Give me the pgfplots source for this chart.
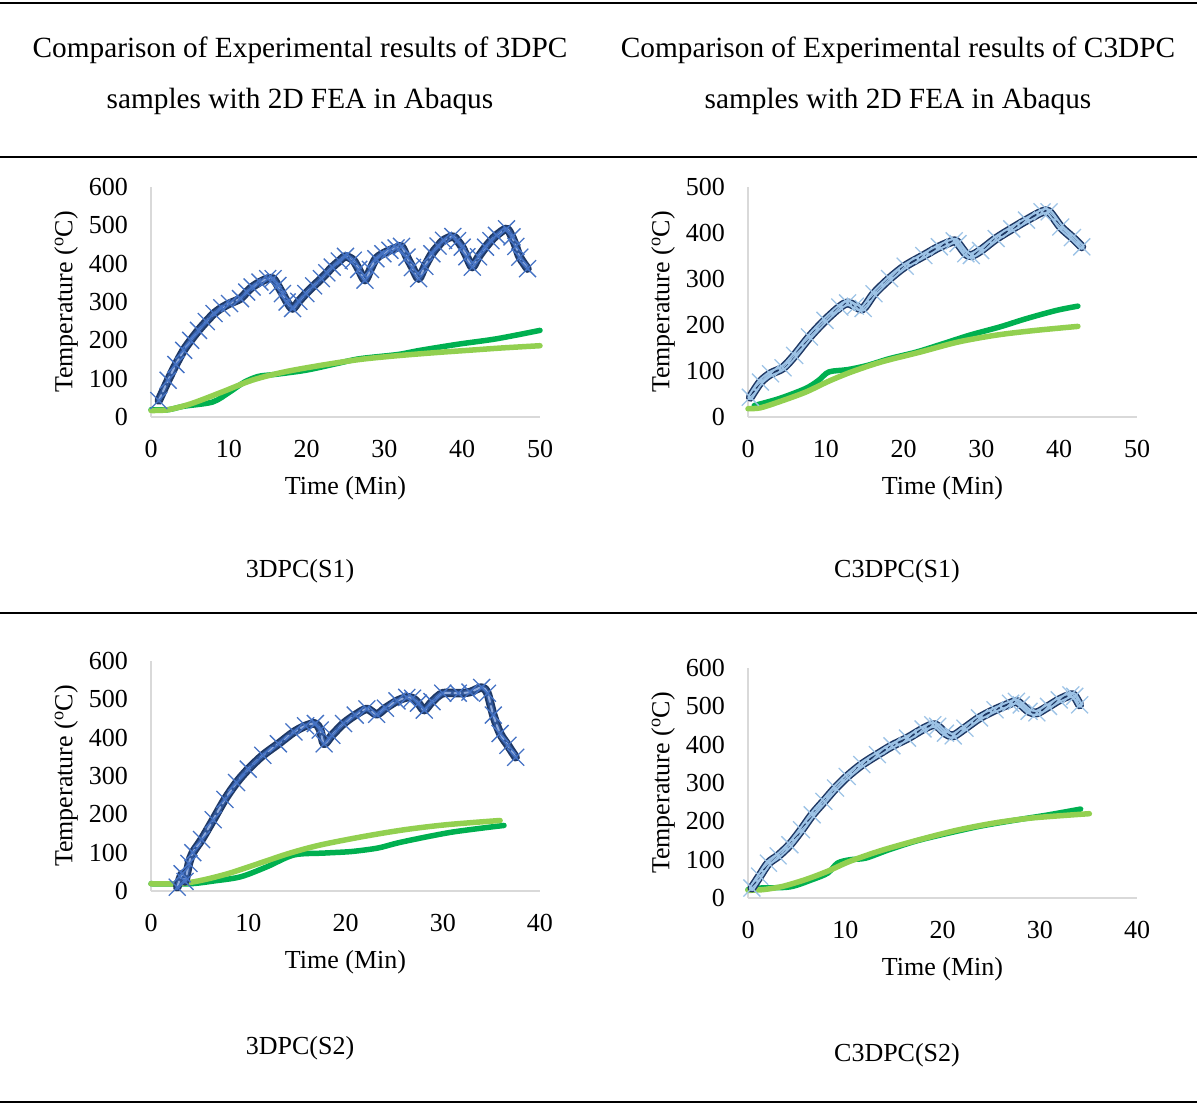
\documentclass[border=0pt]{standalone}
\usepackage{pgfplots}
\usepackage{pgfplotstable}
\pgfplotsset{compat=1.18}
\usepackage{fontspec}
\setmainfont{Liberation Serif}
\newcommand\fs{\fontsize{26}{31}\selectfont}
\newcommand\ft{\fontsize{29.3}{35}\selectfont}
\definecolor{dgreen}{HTML}{00B050}
\definecolor{lgreen}{HTML}{92D050}
\definecolor{aEdge}{HTML}{1F3864}
\definecolor{aOuter}{HTML}{2F5597}
\definecolor{aInner}{HTML}{8FAADC}
\definecolor{aMark}{HTML}{4472C4}
\definecolor{bEdge}{HTML}{1F3864}
\definecolor{bOuter}{HTML}{9DC3E6}
\definecolor{bInner}{HTML}{1F3864}
\definecolor{bMark}{HTML}{9DC3E6}

\pgfplotstableread{
x y
1.0 43
2.2 96
3.2 137
4.2 174
5.1 200
6.1 226
7.1 249
8.1 270
9.1 285
10.1 296
11.5 309
12.3 326
13.0 339
14.0 352
15.0 361
15.7 361
16.3 343
16.9 322
17.5 300
18.2 283
19.0 302
19.9 322
20.9 342
21.9 361
22.6 376
23.3 391
24.2 407
25.0 419
26.0 409
26.7 385
27.5 357
28.2 385
28.9 413
29.8 426
30.7 435
31.5 441
32.2 445
32.9 417
33.6 390
34.4 361
35.2 393
36.1 426
36.9 446
37.6 461
38.8 471
39.4 460
40.0 443
40.6 418
41.3 391
42.1 418
43.0 443
43.7 460
44.4 474
45.7 491
46.4 470
46.9 445
47.4 417
48.4 387
}\tAb
\pgfplotstableread{
x y
0 19
2.2 19
4.2 28
7.9 39
10.1 65
12 91
13.8 106
15.9 111
19.9 122
23.8 139
26.8 152
31.7 163
34.6 174
39.5 190
44.4 204
50 226
}\tAd
\pgfplotstableread{
x y
0 17
2.2 19
5.2 35
9.1 65
13 96
17 117
21.9 135
26.8 150
31.7 160
36.6 168
41.5 175
45 180
50 186
}\tAl

\pgfplotstableread{
x y
0.3 43
1.6 76
2.9 94
4.5 107
6.0 134
7.9 174
9.9 210
11.8 239
12.8 248
13.8 241
14.8 236
16.2 268
18.2 301
20.2 328
22.6 351
24.6 370
26.5 383
27.0 377
28.0 355
28.7 351
29.9 362
31.9 388
33.9 409
35.8 428
37.8 446
38.7 446
40.2 413
41.7 390
42.9 370
}\tBb
\pgfplotstableread{
x y
0.8 25
4 40
7.4 62
9.1 80
10.4 98
12.8 103
15.3 112
18.2 127
21.6 141
25 159
28.5 178
32.4 196
35.8 214
39.7 232
42.4 241
}\tBd
\pgfplotstableread{
x y
0 18
1.6 20
4 33
7.4 54
10.4 78
13.3 98
17.2 120
22.1 141
27 163
31.9 178
36.8 188
42.4 197
}\tBl

\pgfplotstableread{
x y
2.7 10
3.2 45
3.5 25
3.9 72
4.3 100
5.2 134
6.4 186
7.6 239
8.8 283
10 318
11.5 354
13.1 384
14.7 415
15.9 431
16.9 437
17.4 420
17.8 384
18.6 406
19.8 437
21 459
22.2 475
23.2 461
24.1 477
25.3 496
26.3 505
26.9 503
27.5 490
28.1 472
28.9 494
30 516
31.6 516
32.8 519
34 531
34.6 516
35.2 459
35.9 411
36.7 380
37.5 349
}\tCb
\pgfplotstableread{
x y
0 19
4 19
6.4 26
9.2 37
11.9 63
14.7 94
17.8 99
20.6 103
23.3 112
25.3 125
27.7 138
30.8 153
34 164
36.3 171
}\tCd
\pgfplotstableread{
x y
0 19
2.9 19
5.2 28
8 46
11.1 72
14.3 99
17.4 120
21.8 142
26.1 160
30.4 173
35.9 184
}\tCl

\pgfplotstableread{
x y
0.4 26
1.2 57
2.1 91
3.1 110
4.3 139
5.5 178
6.6 217
7.8 252
9 287
10.2 317
11.7 348
13.3 374
14.8 397
16.4 417
18 441
19 452
19.5 448
20.3 430
21.1 423
22.3 443
23.8 470
25.4 491
27 508
27.6 513
28.1 504
28.9 487
29.7 483
30.9 500
32 517
33.2 530
33.6 526
34.1 504
}\tDb
\pgfplotstableread{
x y
0 22
1.2 26
4.3 29
6.6 48
8.2 65
9.2 91
10.5 100
12.1 104
14.5 126
17.2 148
19.9 165
23.8 187
27.7 204
30.9 217
34.2 232
}\tDd
\pgfplotstableread{
x y
0 20
1.6 22
3.5 30
5.9 48
8.2 70
10.5 96
13.7 124
17.6 152
21.5 177
25.4 196
29.3 209
35.1 220
}\tDl

\pgfplotsset{
  panel/.style={
    scale only axis, width=389pt, height=230pt, anchor=south west,
    axis x line*=bottom, axis y line*=left,
    axis line style={draw=black!15, line width=1.5pt},
    major tick length=0pt,
    tick label style={font=\fs},
    label style={font=\fs},
    /pgf/number format/assume math mode=true,
    xticklabel style={inner sep=0pt, anchor=north, yshift=-23pt},
    yticklabel style={inner sep=0pt, anchor=east, xshift=-23pt},
    xlabel={Time (Min)}, ylabel={Temperature (\textsuperscript{o}C)},
    xlabel style={at={(axis description cs:0.5,-0.309)}, anchor=center, inner sep=0pt},
    ylabel style={at={(axis description cs:-0.218,0.5)}, anchor=center, inner sep=0pt},
    xmin=0, ymin=0, clip=false,
  },
  gline/.style={smooth, line width=5.5pt, line cap=round, line join=round},
  bl/.style={smooth, tension=0.5, line join=round, line cap=round},
}

\begin{document}
\begin{tikzpicture}
\path[use as bounding box] (0pt,0pt) rectangle (1197pt,-1104pt);
% rules
\draw[line width=1.5pt] (0pt,-3pt) -- (1197pt,-3pt);
\draw[line width=1.5pt] (0pt,-157pt) -- (1197pt,-157pt);
\draw[line width=1.5pt] (0pt,-613pt) -- (1197pt,-613pt);
\draw[line width=1.5pt] (0pt,-1102pt) -- (1197pt,-1102pt);
% titles
\node[font=\ft, inner sep=0pt, anchor=base] at (300pt,-57pt) {Comparison of Experimental results of 3DPC};
\node[font=\ft, inner sep=0pt, anchor=base] at (300pt,-108pt) {samples with 2D FEA in Abaqus};
\node[font=\ft, inner sep=0pt, anchor=base] at (898pt,-57pt) {Comparison of Experimental results of C3DPC};
\node[font=\ft, inner sep=0pt, anchor=base] at (898pt,-108pt) {samples with 2D FEA in Abaqus};
\node[font=\fs, inner sep=0pt, anchor=base] at (300pt,-577pt) {3DPC(S1)};
\node[font=\fs, inner sep=0pt, anchor=base] at (897pt,-577pt) {C3DPC(S1)};
\node[font=\fs, inner sep=0pt, anchor=base] at (300pt,-1054pt) {3DPC(S2)};
\node[font=\fs, inner sep=0pt, anchor=base] at (897pt,-1061pt) {C3DPC(S2)};

% Chart 1
\begin{axis}[panel, at={(151pt,-417pt)}, xmax=50, ymax=600,
  xtick={0,10,...,50}, ytick={0,100,...,600}]
\addplot[gline, draw=dgreen] table {\tAd};
\addplot[gline, draw=lgreen] table {\tAl};
\addplot[bl, draw=aEdge, line width=8.5pt] table {\tAb};
\addplot[bl, draw=aOuter, line width=5pt] table {\tAb};
\addplot[bl, draw=aInner, line width=2pt, dash pattern=on 6pt off 4pt] table {\tAb};
\addplot[only marks, mark=x, mark size=12pt, color=aMark, line width=1.3pt] table {\tAb};
\end{axis}

% Chart 2
\begin{axis}[panel, at={(748pt,-417pt)}, xmax=50, ymax=500,
  xtick={0,10,...,50}, ytick={0,100,...,500}]
\addplot[gline, draw=dgreen] table {\tBd};
\addplot[gline, draw=lgreen] table {\tBl};
\addplot[bl, draw=bEdge, line width=9pt] table {\tBb};
\addplot[bl, draw=bOuter, line width=6pt] table {\tBb};
\addplot[bl, draw=bInner, line width=1.8pt, dash pattern=on 7pt off 4pt] table {\tBb};
\addplot[only marks, mark=x, mark size=12pt, color=bMark, line width=1.3pt] table {\tBb};
\end{axis}

% Chart 3
\begin{axis}[panel, at={(151pt,-891pt)}, xmax=40, ymax=600,
  xtick={0,10,...,40}, ytick={0,100,...,600}]
\addplot[gline, draw=dgreen] table {\tCd};
\addplot[gline, draw=lgreen] table {\tCl};
\addplot[bl, draw=aEdge, line width=8.5pt] table {\tCb};
\addplot[bl, draw=aOuter, line width=5pt] table {\tCb};
\addplot[bl, draw=aInner, line width=2pt, dash pattern=on 6pt off 4pt] table {\tCb};
\addplot[only marks, mark=x, mark size=12pt, color=aMark, line width=1.3pt] table {\tCb};
\end{axis}

% Chart 4
\begin{axis}[panel, at={(748pt,-898pt)}, xmax=40, ymax=600,
  xtick={0,10,...,40}, ytick={0,100,...,600}]
\addplot[gline, draw=dgreen] table {\tDd};
\addplot[gline, draw=lgreen] table {\tDl};
\addplot[bl, draw=bEdge, line width=9pt] table {\tDb};
\addplot[bl, draw=bOuter, line width=6pt] table {\tDb};
\addplot[bl, draw=bInner, line width=1.8pt, dash pattern=on 7pt off 4pt] table {\tDb};
\addplot[only marks, mark=x, mark size=12pt, color=bMark, line width=1.3pt] table {\tDb};
\end{axis}
\end{tikzpicture}
\end{document}
